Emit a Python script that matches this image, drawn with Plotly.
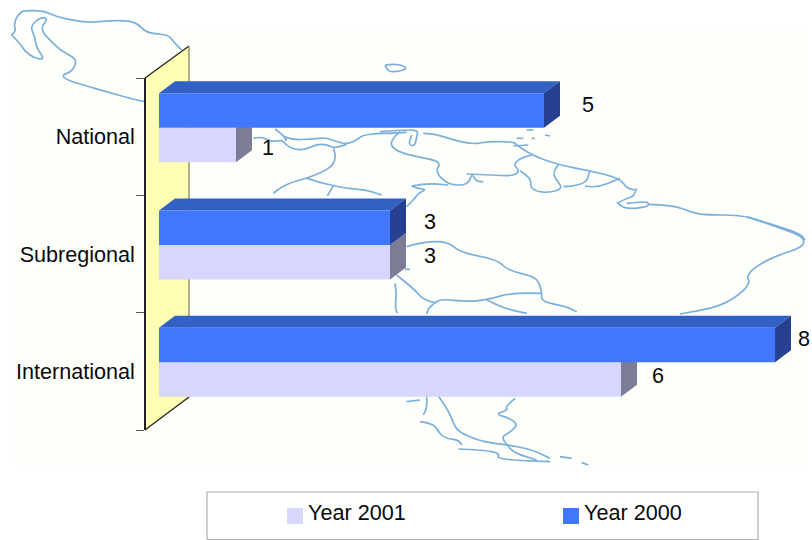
import plotly.graph_objects as go

# ---- data -------------------------------------------------------------
categories = ["International", "Subregional", "National"]
year_2000 = [8, 3, 5]
year_2001 = [6, 3, 1]
series_names = ["Year 2001", "Year 2000"]

# ---- styling ----------------------------------------------------------
W, H = 812, 540
FONT = "Liberation Sans, Arial, sans-serif"
FS = 21.6
C_2000 = "#3F78FF"; C_2000_TOP = "#3260C4"; C_2000_SIDE = "#254190"
C_2001 = "#D6D6FE"; C_2001_SIDE = "#7C7C96"
WALL = "#FFFFB4"; MAP = "#7BB0DB"

PX_PER_X = 77.0
PLOT_L, PLOT_R = 159, 812
BAR_T, BAR_B = 69, 421
PX_PER_Y = (BAR_B - BAR_T) / 3
DX = 16 / PX_PER_X
DY = 12 / PX_PER_Y
BARGAP = 0.412
BAR_H = (1 - BARGAP) / 2


def px(x):
    return x / W


def py(y):
    return 1 - y / H


def paper_path(pts, close=False):
    s = "M" + " L".join(f"{px(x):.5f},{py(y):.5f}" for x, y in pts)
    return s + (" Z" if close else "")


def smooth_path(pts):
    """Rounded outline: quadratic curves through the midpoints of the traced points."""
    p = [(px(x), py(y)) for x, y in pts]
    s = f"M{p[0][0]:.5f},{p[0][1]:.5f}"
    for a, b in zip(p[1:-1], p[2:]):
        mx, my = (a[0] + b[0]) / 2, (a[1] + b[1]) / 2
        s += f" Q{a[0]:.5f},{a[1]:.5f} {mx:.5f},{my:.5f}"
    s += f" L{p[-1][0]:.5f},{p[-1][1]:.5f}"
    return s


def zoom_pts(pts, ox, oy):
    return [(ox + x / 3, oy + y / 3) for x, y in pts]


# decorative background map outlines, traced in zoomed reference space
map_lines = [
    zoom_pts(p, 0, 0) for p in [
        [(35,105),(48,95),(42,75),(50,50),(65,35),(75,32),(130,32),(170,50),(215,60),(270,68),(330,62),(385,62),(415,72),(435,95),(470,102),(505,105),(525,130),(545,150)],
        [(35,105),(60,130),(75,155),(105,175),(130,178),(125,165),(108,140),(105,110),(90,80),(120,52),(145,55),(125,80),(130,100),(150,120),(175,145),(190,155),(225,175),(228,190),(215,215),(185,225),(200,240),(260,258),(330,278),(400,298),(435,305)],
    ]
] + [
    zoom_pts(p, 190, 125) for p in [
        [(190,40),(210,35),(235,45),(250,50),(275,45),(285,55),(295,65),(320,75),(350,72),(380,58),(410,58),(430,70),(470,58)],
        [(255,12),(280,30),(290,48)],
        [(280,35),(310,45),(360,42),(410,38),(440,50),(470,58),(505,42),(515,32),(560,25),(600,25),(650,22)],
        [(430,70),(438,90),(430,120),(400,140),(350,160),(310,170),(275,185),(250,205)],
        [(350,160),(390,172),(430,182),(470,190),(530,195),(575,210)],
        [(430,182),(420,200),(412,212)],
    ]
] + [
    zoom_pts(p, 380, 50) for p in [
        [(0,245),(60,240),(115,240),(110,260),(105,288),(85,285),(95,255)],
        [(60,245),(25,275),(50,305),(110,320),(185,335),(165,365),(205,405),(265,405),(275,370),(290,395),(310,395)],
        [(260,372),(330,375),(400,378),(420,362),(400,345),(420,325),(455,315)],
        [(130,250),(160,250),(220,270),(280,283),(320,275),(400,275),(410,285),(455,315),(535,345),(630,362),(720,385),(740,415),(765,420)],
        [(420,362),(455,385),(450,410),(470,425),(510,428),(550,415),(525,385),(520,365),(535,345)],
        [(550,410),(615,408),(630,362)],
        [(615,408),(650,415),(720,385)],
        [(95,408),(140,400),(205,405)],
        [(95,408),(110,415),(140,418),(115,430),(105,445),(80,470)],
        [(15,45),(50,40),(85,55),(55,65),(25,65),(15,45)],
        [(440,240),(460,240)],
        [(410,265),(430,265)],
        [(455,265),(465,265)],
        [(495,255),(510,258)],
        [(400,288),(445,285)],
    ]
] + [
    zoom_pts(p, 520, 70) for p in [
        [(290,400),(320,385),(340,380),(350,355)],
        [(295,400),(310,418),(380,412),(388,400),(375,395),(320,400)],
        [(385,403),(460,405),(515,428),(560,435),(660,435),(730,455),(840,490),(855,510)],
    ]
] + [
    zoom_pts(p, 380, 160) for p in [
        [(1100,170),(1160,190),(1260,225),(1275,245),(1260,265),(1180,290),(1120,325),(1100,350),(1110,365),(1090,395),(1020,440),(900,462)],
    ]
] + [
    zoom_pts(p, 380, 230) for p in [
        [(80,50),(130,35),(205,35),(240,68),(350,88),(385,122),(465,140),(480,165),(485,190),(485,215),(560,230),(590,245)],
        [(485,190),(400,187),(320,210),(260,215),(185,207),(165,218),(145,235),(140,252)],
        [(320,210),(370,235),(440,250)],
        [(165,218),(130,210),(105,180),(50,135)],
        [(45,160),(50,190),(45,230),(52,250)],
        [(75,118),(90,118)],
    ]
] + [
    zoom_pts(p, 390, 390) for p in [
        [(145,18),(175,60),(190,100),(205,125),(260,150),(310,160),(355,165),(430,180),(480,205)],
        [(110,18),(112,50),(100,75)],
        [(90,95),(130,100),(145,125),(165,145),(205,150),(215,165)],
        [(50,35),(90,30)],
        [(375,25),(345,50),(355,60),(315,72),(360,85),(385,105),(355,130),(335,140),(350,165),(375,190),(440,210)],
        [(205,177),(280,180),(330,190),(320,205),(390,212),(480,215)],
        [(510,200),(545,205)],
        [(575,218),(595,225)],
    ]
]

shapes = [dict(type="rect", xref="paper", yref="paper", layer="below",
               x0=px(12), x1=px(806), y0=py(466), y1=py(30),
               fillcolor="#FEFEFB", line=dict(width=0))]
for pts in map_lines:
    shapes.append(dict(type="path", xref="paper", yref="paper", layer="below",
                       path=smooth_path(pts) if len(pts) > 2 else paper_path(pts),
                       line=dict(color=MAP, width=1.7)))

# back wall of the 3-D chart
shapes.append(dict(type="path", xref="paper", yref="paper", layer="below",
                   path=paper_path([(145,78),(189,46),(189,397),(145,430)], True),
                   fillcolor=WALL, line=dict(width=0)))
shapes.append(dict(type="path", xref="paper", yref="paper", layer="below",
                   path=paper_path([(145,78),(189,46)]), line=dict(color="#222222", width=1.3)))
shapes.append(dict(type="path", xref="paper", yref="paper", layer="below",
                   path=paper_path([(145,430),(189,397)]), line=dict(color="#222222", width=1.3)))
shapes.append(dict(type="path", xref="paper", yref="paper", layer="below",
                   path=paper_path([(189,46),(189,397)]), line=dict(color="#85856A", width=1.3)))


def data_poly(pts, fill):
    path = "M" + " L".join(f"{x:.4f},{y:.4f}" for x, y in pts) + " Z"
    return dict(type="path", xref="x", yref="y", layer="below", path=path,
                fillcolor=fill, line=dict(width=0))


# depth faces computed from the values
for i, v in enumerate(year_2001):
    lo, hi = i - BAR_H, i
    shapes.append(data_poly([(v, lo), (v + DX, lo + DY), (v + DX, hi + DY), (v, hi)], C_2001_SIDE))
for i, v in enumerate(year_2000):
    lo, hi = i, i + BAR_H
    shapes.append(data_poly([(0, hi), (DX, hi + DY), (v + DX, hi + DY), (v, hi)], C_2000_TOP))
    shapes.append(data_poly([(v, lo), (v + DX, lo + DY), (v + DX, hi + DY), (v, hi)], C_2000_SIDE))

# legend box and swatches
shapes.append(dict(type="rect", xref="paper", yref="paper", x0=px(207), x1=px(758),
                   y0=py(539.5), y1=py(492), fillcolor="white",
                   line=dict(color="#B0B0B0", width=1.2)))
shapes.append(dict(type="rect", xref="paper", yref="paper", x0=px(287), x1=px(303),
                   y0=py(524), y1=py(508), fillcolor=C_2001, line=dict(width=0)))
shapes.append(dict(type="rect", xref="paper", yref="paper", x0=px(563), x1=px(579),
                   y0=py(524), y1=py(508), fillcolor=C_2000, line=dict(width=0)))

fig = go.Figure()
ypos = list(range(len(categories)))
fig.add_trace(go.Bar(y=ypos, x=year_2001, orientation="h", name=series_names[0],
                     marker=dict(color=C_2001, line=dict(width=0)),
                     xaxis="x", yaxis="y", showlegend=False))
fig.add_trace(go.Bar(y=ypos, x=year_2000, orientation="h", name=series_names[1],
                     marker=dict(color=C_2000, line=dict(width=0)),
                     xaxis="x", yaxis="y", showlegend=False))
# invisible trace that keeps the category axis with its ticks alive
fig.add_trace(go.Scatter(y=categories, x=[0, 0, 0], mode="markers",
                         marker=dict(opacity=0), xaxis="x", yaxis="y2",
                         showlegend=False, hoverinfo="skip"))

annotations = []
shift_2000 = [(29, 7), (40, 6), (44, 6)]
shift_2001 = [(37, 4), (40, 7), (32, -3)]
for i, (v, s) in enumerate(zip(year_2000, shift_2000)):
    annotations.append(dict(x=v, y=i + BAR_H / 2, xref="x", yref="y", text=str(v),
                            showarrow=False, xanchor="center", yanchor="middle",
                            xshift=s[0], yshift=s[1]))
for i, (v, s) in enumerate(zip(year_2001, shift_2001)):
    annotations.append(dict(x=v, y=i - BAR_H / 2, xref="x", yref="y", text=str(v),
                            showarrow=False, xanchor="center", yanchor="middle",
                            xshift=s[0], yshift=s[1]))
annotations.append(dict(x=px(305.5), y=py(512), xref="paper", yref="paper", text=series_names[0],
                        showarrow=False, xanchor="left", yanchor="middle"))
annotations.append(dict(x=px(581.5), y=py(512), xref="paper", yref="paper", text=series_names[1],
                        showarrow=False, xanchor="left", yanchor="middle"))
for a in annotations:
    a["font"] = dict(family=FONT, size=FS, color="#0A0A0A")

fig.update_layout(
    width=W, height=H,
    margin=dict(l=0, r=0, t=0, b=0),
    paper_bgcolor="white", plot_bgcolor="rgba(0,0,0,0)",
    barmode="group", bargap=BARGAP, bargroupgap=0,
    shapes=shapes, annotations=annotations, showlegend=False,
    font=dict(family=FONT, size=FS, color="#0A0A0A"),
    xaxis=dict(domain=[px(PLOT_L), px(PLOT_R)], range=[0, (PLOT_R - PLOT_L) / PX_PER_X],
               visible=False, fixedrange=True),
    yaxis=dict(domain=[py(BAR_B), py(BAR_T)], range=[-0.5, 2.5], visible=False, fixedrange=True),
    yaxis2=dict(domain=[py(430), py(78)], type="category", categoryorder="array",
                categoryarray=categories, range=[-0.5, 2.5], anchor="free",
                position=px(145), side="left", tickson="boundaries",
                ticks="outside", ticklen=8, tickwidth=1.3, tickcolor="#555555",
                ticklabelstandoff=5,
                showline=True, linecolor="#222222", linewidth=1.5,
                showgrid=False, zeroline=False, fixedrange=True,
                tickfont=dict(family=FONT, size=FS, color="#0A0A0A")),
)

fig.write_html("out.html", config=dict(displayModeBar=False),
               post_script="document.body.style.margin='0';document.body.style.overflow='hidden';")
